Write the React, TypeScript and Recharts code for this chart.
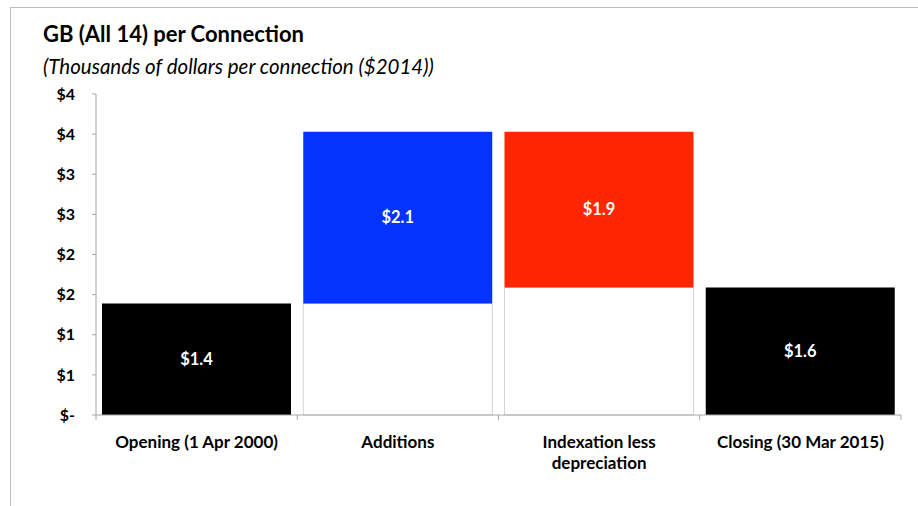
import React from 'react';
import { BarChart, Bar, XAxis, YAxis, Cell, LabelList } from 'recharts';

const categories = ['Opening (1 Apr 2000)', 'Additions', 'Indexation less depreciation', 'Closing (30 Mar 2015)'];
const baseValues = [0, 1.39, 1.59, 0];
const stepValues = [1.39, 2.14, 1.94, 1.59];
const barColors = ['#000000', '#0433FF', '#FF2600', '#000000'];
const yTicks = [0, 0.5, 1, 1.5, 2, 2.5, 3, 3.5, 4];

const titleText = 'GB (All 14) per Connection';
const subtitleText = '(Thousands of dollars per connection ($2014))';

const data = categories.map((name, i) => ({ name, base: baseValues[i], step: stepValues[i] }));

const FONT = 'Lato, "Open Sans", sans-serif';
const W = 918;
const H = 506;
const M = { top: 94, right: 17, bottom: 31, left: 0 };
const Y_W = 96;
const X_H = 60;
const BAND = (W - M.left - M.right - Y_W) / categories.length;
const MAX_CHARS = 22;

const wrap = (s: string): string[] => {
  const words = s.split(' ');
  const lines: string[] = [];
  let cur = '';
  words.forEach((w) => {
    const next = cur ? cur + ' ' + w : w;
    if (next.length > MAX_CHARS && cur) {
      lines.push(cur);
      cur = w;
    } else {
      cur = next;
    }
  });
  if (cur) lines.push(cur);
  return lines;
};

const XTick = (props: any) => {
  const { x, y, payload, index } = props;
  const lines = wrap(String(payload.value));
  return (
    <g>
      <line x1={x - BAND / 2} x2={x - BAND / 2} y1={y} y2={y + 5} stroke="#a6a6a6" />
      {index === categories.length - 1 && (
        <line x1={x + BAND / 2} x2={x + BAND / 2} y1={y} y2={y + 5} stroke="#a6a6a6" />
      )}
      <text
        x={x}
        y={y + 33}
        textAnchor="middle"
        fontFamily={FONT}
        fontSize={17}
        fontWeight="bold"
        fill="#000"
      >
        {lines.map((l, i) => (
          <tspan key={i} x={x} dy={i === 0 ? 0 : 21}>
            {l}
          </tspan>
        ))}
      </text>
    </g>
  );
};

const yFmt = (v: number) => (v === 0 ? '$-' : '$' + Math.round(v));
const lblFmt = (v: any) => '$' + Number(v).toFixed(1);

export default function App() {
  return (
    <div style={{ position: 'absolute', left: 0, top: 0, width: W, height: H, background: '#fff' }}>
      <svg width={W} height={H} style={{ position: 'absolute', left: 0, top: 0 }}>
        <line x1={10} y1={7.5} x2={W} y2={7.5} stroke="#bdbdbd" />
        <line x1={10.5} y1={7} x2={10.5} y2={H} stroke="#bdbdbd" />
        <text x={43} y={42} fontFamily={FONT} fontSize={22} fontWeight="bold" fill="#000">
          {titleText}
        </text>
        <text x={43} y={74} fontFamily={FONT} fontSize={20.5} fontStyle="italic" fill="#000">
          {subtitleText}
        </text>
      </svg>
      <div style={{ position: 'absolute', left: 0, top: 0 }}>
        <BarChart width={W} height={H} data={data} margin={M} barCategoryGap={6}>
          <XAxis
            dataKey="name"
            height={X_H}
            interval={0}
            tickLine={false}
            tickSize={0}
            tickMargin={0}
            axisLine={{ stroke: '#a6a6a6' }}
            tick={<XTick />}
          />
          <YAxis
            width={Y_W}
            domain={[0, 4]}
            ticks={yTicks}
            interval={0}
            tickFormatter={yFmt}
            tickSize={4}
            tickMargin={17}
            axisLine={{ stroke: '#a6a6a6' }}
            tickLine={{ stroke: '#a6a6a6' }}
            tick={{ fontFamily: FONT, fontSize: 16, fontWeight: 'bold', fill: '#000' }}
          />
          <Bar dataKey="base" stackId="w" fill="#ffffff" stroke="#d4d4d4" isAnimationActive={false} />
          <Bar dataKey="step" stackId="w" isAnimationActive={false}>
            {data.map((d, i) => (
              <Cell key={d.name} fill={barColors[i]} />
            ))}
            <LabelList
              dataKey="step"
              position="center"
              formatter={lblFmt}
              fill="#ffffff"
              fontFamily={FONT}
              fontSize={16.5}
              fontWeight="bold"
            />
          </Bar>
        </BarChart>
      </div>
    </div>
  );
}
